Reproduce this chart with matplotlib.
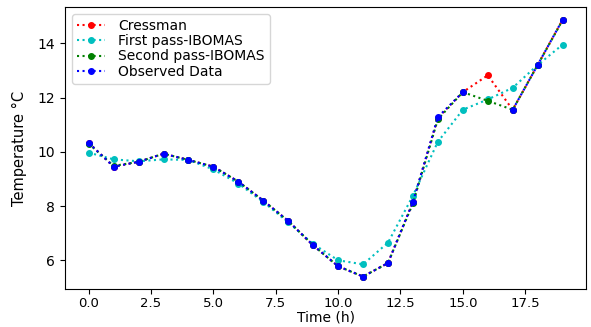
import numpy as np
import matplotlib.pyplot as plt

hours = np.arange(20)
observed = [10.33, 9.45, 9.63, 9.93, 9.7, 9.45, 8.9, 8.2, 7.45, 6.55,
            5.78, 5.4, 5.9, 8.15, 11.28, 12.2, np.nan, 11.55, 13.2, 14.87]
cressman = [10.33, 9.45, 9.63, 9.93, 9.7, 9.45, 8.9, 8.2, 7.45, 6.55,
            5.78, 5.4, 5.9, 8.15, 11.25, 12.2, 12.82, 11.55, 13.2, 14.87]
first_pass = [9.97, 9.72, 9.65, 9.72, 9.7, 9.35, 8.83, 8.15, 7.4, 6.6,
              6.0, 5.85, 6.65, 8.38, 10.37, 11.55, 11.93, 12.36, 13.2, 13.95]
second_pass = [10.3, 9.48, 9.63, 9.93, 9.7, 9.45, 8.9, 8.2, 7.45, 6.55,
               5.78, 5.4, 5.9, 8.1, 11.2, 12.2, 11.88, 11.55, 13.2, 14.85]

fig = plt.figure(figsize=(5.91, 3.27), dpi=100)
ax = fig.add_axes([0.11, 0.115, 0.882, 0.864])

ms = 4
ax.plot(hours, cressman, ':o', color='r', markersize=ms, label='Cressman')
ax.plot(hours, first_pass, ':o', color='c', markersize=ms, label='First pass-IBOMAS')
ax.plot(hours, second_pass, ':o', color='g', markersize=ms, label='Second pass-IBOMAS')
ax.plot(hours, observed, ':o', color='b', markersize=ms, label='Observed Data')

ax.set_xlabel('Time (h)', fontsize=10, labelpad=0)
ax.set_ylabel('Temperature °C', fontsize=10.5, labelpad=8)
ax.tick_params(axis='x', labelsize=9.5, pad=2)
ax.tick_params(axis='y', labelsize=10)
ax.legend(loc='upper left', fontsize=10, handlelength=2, borderpad=0.35,
          labelspacing=0.1, handletextpad=1.0)

fig.savefig('out.png', dpi=100)
